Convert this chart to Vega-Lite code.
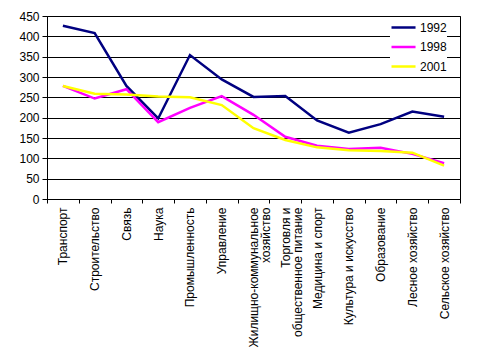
{
  "$schema": "https://vega.github.io/schema/vega-lite/v6.json",
  "autosize": {"type": "none"},
  "padding": {"left": 47, "top": 16, "right": 30, "bottom": 161},
  "width": 413,
  "height": 183,
  "background": "white",
  "config": {
    "view": {"stroke": "black", "strokeWidth": 1},
    "font": "Liberation Sans"
  },
  "data": {
    "values": [
      {"category": "Транспорт", "year": "1992", "value": 426},
      {"category": "Строительство", "year": "1992", "value": 408},
      {"category": "Связь", "year": "1992", "value": 278},
      {"category": "Наука", "year": "1992", "value": 198},
      {"category": "Промышленность", "year": "1992", "value": 354},
      {"category": "Управление", "year": "1992", "value": 294},
      {"category": "Жилищно-коммунальное\nхозяйство", "year": "1992", "value": 251},
      {"category": "Торговля и\nобщественное питание", "year": "1992", "value": 253},
      {"category": "Медицина и спорт", "year": "1992", "value": 193},
      {"category": "Культура и искусство", "year": "1992", "value": 163},
      {"category": "Образование", "year": "1992", "value": 184},
      {"category": "Лесное хозяйство", "year": "1992", "value": 215},
      {"category": "Сельское хозяйство", "year": "1992", "value": 202},
      {"category": "Транспорт", "year": "1998", "value": 278},
      {"category": "Строительство", "year": "1998", "value": 247},
      {"category": "Связь", "year": "1998", "value": 270},
      {"category": "Наука", "year": "1998", "value": 189},
      {"category": "Промышленность", "year": "1998", "value": 224},
      {"category": "Управление", "year": "1998", "value": 253},
      {"category": "Жилищно-коммунальное\nхозяйство", "year": "1998", "value": 207},
      {"category": "Торговля и\nобщественное питание", "year": "1998", "value": 153},
      {"category": "Медицина и спорт", "year": "1998", "value": 131},
      {"category": "Культура и искусство", "year": "1998", "value": 123},
      {"category": "Образование", "year": "1998", "value": 126},
      {"category": "Лесное хозяйство", "year": "1998", "value": 111},
      {"category": "Сельское хозяйство", "year": "1998", "value": 88},
      {"category": "Транспорт", "year": "2001", "value": 278},
      {"category": "Строительство", "year": "2001", "value": 259},
      {"category": "Связь", "year": "2001", "value": 257},
      {"category": "Наука", "year": "2001", "value": 252},
      {"category": "Промышленность", "year": "2001", "value": 250},
      {"category": "Управление", "year": "2001", "value": 231},
      {"category": "Жилищно-коммунальное\nхозяйство", "year": "2001", "value": 174},
      {"category": "Торговля и\nобщественное питание", "year": "2001", "value": 145},
      {"category": "Медицина и спорт", "year": "2001", "value": 127},
      {"category": "Культура и искусство", "year": "2001", "value": 120},
      {"category": "Образование", "year": "2001", "value": 118},
      {"category": "Лесное хозяйство", "year": "2001", "value": 114},
      {"category": "Сельское хозяйство", "year": "2001", "value": 82}
    ]
  },
  "mark": {"type": "line", "strokeWidth": 2.5},
  "encoding": {
    "x": {
      "field": "category",
      "type": "nominal",
      "sort": null,
      "bandPosition": 0.5,
      "scale": {"type": "band", "paddingInner": 0, "paddingOuter": 0},
      "axis": {
        "title": null,
        "labelAngle": -90,
        "labelAlign": "right",
        "labelBaseline": "middle",
        "labelFontSize": 12,
        "labelColor": "black",
        "labelLimit": 300,
        "labelLineHeight": 12,
        "labelPadding": 4,
        "labelExpr": "split(datum.label, '\\n')",
        "tickBand": "extent",
        "tickSize": 4,
        "tickColor": "black",
        "domainColor": "black",
        "grid": false
      }
    },
    "y": {
      "field": "value",
      "type": "quantitative",
      "scale": {"domain": [0, 450], "nice": false},
      "axis": {
        "title": null,
        "values": [0, 50, 100, 150, 200, 250, 300, 350, 400, 450],
        "labelFontSize": 12,
        "labelColor": "black",
        "labelPadding": 3,
        "tickSize": 5,
        "tickColor": "black",
        "domainColor": "black",
        "grid": true,
        "gridColor": "black",
        "gridOpacity": 1
      }
    },
    "color": {
      "field": "year",
      "type": "nominal",
      "scale": {"domain": ["1992", "1998", "2001"], "range": ["#000080", "#FF00FF", "#FFFF00"]},
      "legend": {
        "title": null,
        "orient": "none",
        "legendX": 343,
        "legendY": 1,
        "padding": 0,
        "fillColor": "white",
        "symbolType": "M-1,0H1.67",
        "symbolSize": 324,
        "symbolStrokeWidth": 2.5,
        "labelOffset": 9,
        "labelFontSize": 12,
        "labelColor": "black",
        "rowPadding": 2.5
      }
    }
  }
}
